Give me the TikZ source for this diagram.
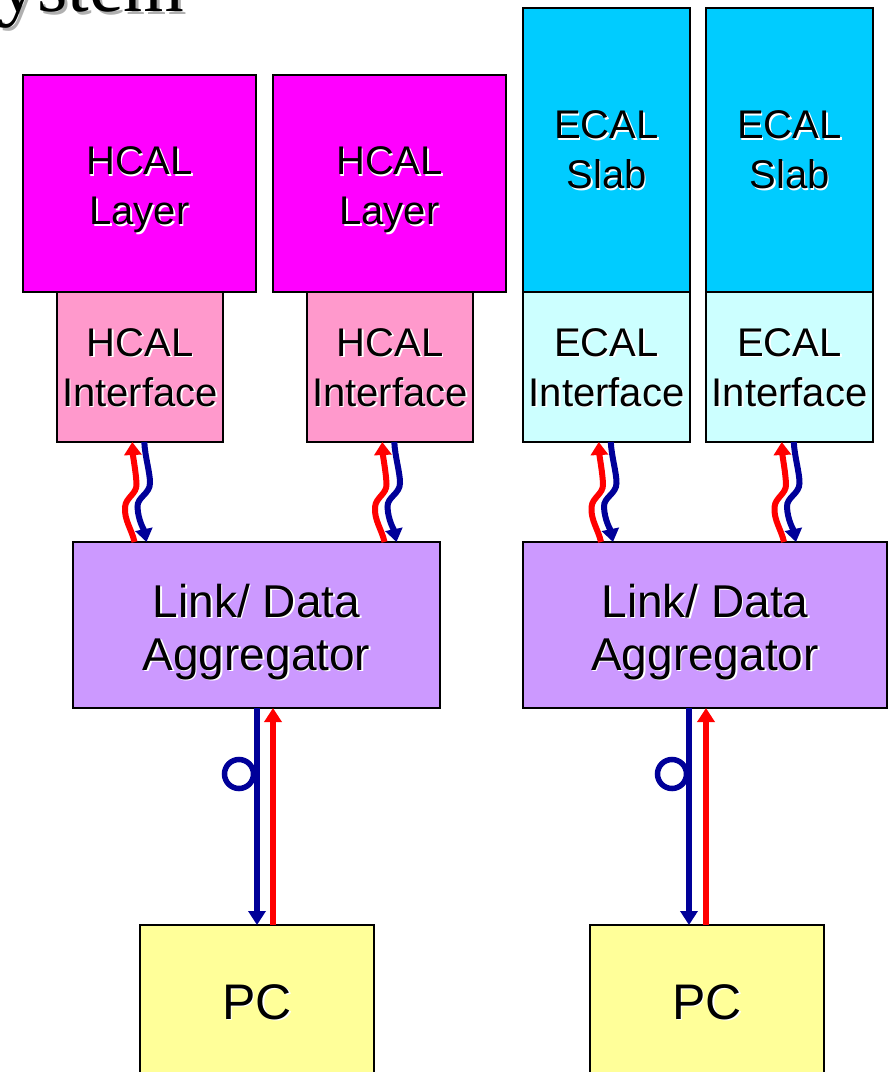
\documentclass[tikz,border=0pt]{standalone}
\usepackage{fontspec}
\setmainfont{Liberation Sans}
\newfontfamily\titlefont{Liberation Serif}
\usetikzlibrary{arrows.meta,calc}
\definecolor{hmag}{HTML}{FF00FF}
\definecolor{hpink}{HTML}{FF99CC}
\definecolor{ecyan}{HTML}{00CCFF}
\definecolor{elcyan}{HTML}{CCFFFF}
\definecolor{lav}{HTML}{CC99FF}
\definecolor{pcy}{HTML}{FFFF99}
\definecolor{navy}{HTML}{000099}
\definecolor{shgray}{HTML}{B0B0B0}
\newcommand\shlabel[4]{%
  \node[txt,font=#3,text=white] at ([shift={(1.6,1.6)}]#2) {#4};
  \node[txt,font=#3] (#1) at (#2) {#4};}
\begin{document}
\begin{tikzpicture}[x=1pt,y=-1pt,
  box/.style={draw=black,line width=2.2pt,inner sep=0pt,outer sep=0pt},
  txt/.style={align=center,inner sep=0pt,outer sep=0pt},
  redarr/.style={draw=red,line width=5.5pt,-{Triangle[width=17pt,length=14pt]}},
  bluearr/.style={draw=navy,line width=5.5pt,-{Triangle[width=17pt,length=14pt]}},
  redwave/.style={draw=red,line width=6pt,-{Triangle[width=17pt,length=13pt]}},
  bluewave/.style={draw=navy,line width=6pt,-{Triangle[width=17pt,length=13pt]}},
  bluering/.style={draw=navy,line width=5.5pt}]
\useasboundingbox (0,0) rectangle (888,1072);
\clip (0,0) rectangle (888,1072);
\fill[white] (0,0) rectangle (888,1072);
% title fragment
\node[anchor=base west,inner sep=0pt,font=\titlefont\fontsize{78}{78}\selectfont,text=shgray] (tsh) at (1,14) {ystem};
\node[anchor=base west,inner sep=0pt,font=\titlefont\fontsize{78}{78}\selectfont] (title) at (-2,11) {ystem};
% boxes
\node[box,fill=hmag,minimum width=233pt,minimum height=217pt] (hl1) at (139.5,183.5) {};
\node[box,fill=hmag,minimum width=233pt,minimum height=217pt] (hl2) at (389.5,183.5) {};
\node[box,fill=hpink,minimum width=166pt,minimum height=150pt] (hi1) at (140,367) {};
\node[box,fill=hpink,minimum width=166pt,minimum height=150pt] (hi2) at (390,367) {};
\node[box,fill=ecyan,minimum width=167pt,minimum height=284pt] (es1) at (606.5,150) {};
\node[box,fill=ecyan,minimum width=167pt,minimum height=284pt] (es2) at (789.5,150) {};
\node[box,fill=elcyan,minimum width=167pt,minimum height=150pt] (ei1) at (606.5,367) {};
\node[box,fill=elcyan,minimum width=167pt,minimum height=150pt] (ei2) at (789.5,367) {};
\node[box,fill=lav,minimum width=367pt,minimum height=166pt] (ag1) at (256.5,625) {};
\node[box,fill=lav,minimum width=364pt,minimum height=166pt] (ag2) at (705,625) {};
\node[box,fill=pcy,minimum width=234pt,minimum height=150pt] (pc1) at (257,1000) {};
\node[box,fill=pcy,minimum width=234pt,minimum height=150pt] (pc2) at (707,1000) {};
% labels
\shlabel{hl1t}{139.5,189.7}{\fontsize{40}{50}\selectfont}{HCAL\\Layer}
\shlabel{hl2t}{389.5,189.7}{\fontsize{40}{50}\selectfont}{HCAL\\Layer}
\shlabel{hi1t}{140,367.5}{\fontsize{40}{50}\selectfont}{HCAL\\Interface}
\shlabel{hi2t}{390,367.5}{\fontsize{40}{50}\selectfont}{HCAL\\Interface}
\shlabel{es1t}{606.5,149.8}{\fontsize{40}{50}\selectfont}{ECAL\\Slab}
\shlabel{es2t}{789.5,149.8}{\fontsize{40}{50}\selectfont}{ECAL\\Slab}
\shlabel{ei1t}{606.5,367.5}{\fontsize{40}{50}\selectfont}{ECAL\\Interface}
\shlabel{ei2t}{789.5,367.5}{\fontsize{40}{50}\selectfont}{ECAL\\Interface}
\shlabel{ag1t}{256.5,631.6}{\fontsize{46}{53}\selectfont}{Link/ Data\\Aggregator}
\shlabel{ag2t}{705,631.6}{\fontsize{46}{53}\selectfont}{Link/ Data\\Aggregator}
\shlabel{pc1t}{257,1002}{\fontsize{50}{50}\selectfont}{PC}
\shlabel{pc2t}{707,1002}{\fontsize{50}{50}\selectfont}{PC}
% wavy links
\foreach \b in {hi1,hi2,ei1,ei2}{
  \begin{scope}[shift={(\b.south)}]
    \draw[redwave] (-5.5,100) .. controls (-8,88) and (-16,78) .. (-15,65)
       .. controls (-14,55) and (-3,52) .. (-3.5,42)
       .. controls (-4,30) and (-7,15) .. (-7.7,0);
    \draw[bluewave] (4.3,0) .. controls (5,15) and (10,30) .. (10,41)
       .. controls (10,52) and (-3,55) .. (-2.5,65)
       .. controls (-2,78) and (4,88) .. (6.5,100);
  \end{scope}}
% straight links with loop
\coordinate (bx1) at (257,0);
\coordinate (rx1) at (273,0);
\coordinate (bx2) at (689,0);
\coordinate (rx2) at (706,0);
\draw[bluearr] (ag1.south -| bx1) -- (pc1.north -| bx1);
\draw[redarr] (pc1.north -| rx1) -- (ag1.south -| rx1);
\draw[bluearr] (ag2.south -| bx2) -- (pc2.north -| bx2);
\draw[redarr] (pc2.north -| rx2) -- (ag2.south -| rx2);
\draw[bluering] (239,774) circle[radius=14.5pt];
\draw[bluering] (672,774) circle[radius=14.5pt];
\end{tikzpicture}
\end{document}
